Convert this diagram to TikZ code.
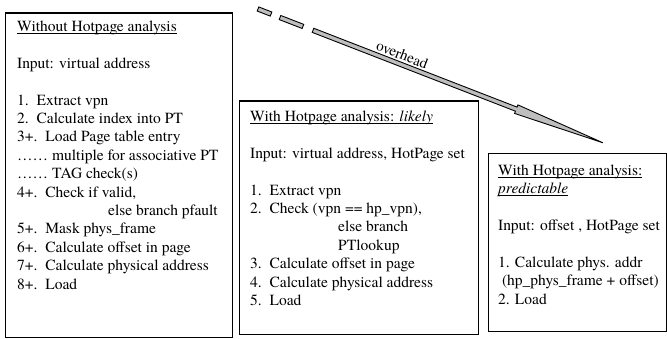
\documentclass[tikz,border=0pt]{standalone}
\usepackage{fontspec}
\setmainfont{TeX Gyre Termes}
\newcommand\myul[1]{\setbox0\hbox{#1}\rlap{\rule[-2.4pt]{\wd0}{0.8pt}}\box0}
\definecolor{shaftgray}{RGB}{190,190,190}
\tikzset{
  panel/.style={draw, line width=1.4pt, anchor=north west, inner sep=0pt},
  txt/.style={anchor=base west, inner sep=0pt, font=\fontsize{15.5}{18.4}\selectfont},
  arrowpart/.style={fill=shaftgray, draw=black, line width=0.9pt, line join=miter},
}
\begin{document}
\begin{tikzpicture}[x=1pt,y=-1pt]
\useasboundingbox (0,0) rectangle (667,339);
% panels
\node[panel, minimum width=227pt, minimum height=324.5pt] (b1) at (5,12.5) {};
\node[panel, minimum width=239.5pt, minimum height=233pt] (b2) at (238.5,100.5) {};
\node[panel, minimum width=178pt, minimum height=178pt] (b3) at (488,153) {};
% box 1 text
\foreach \i/\t in {0/{\myul{Without Hotpage analysis}},
  2/{Input: virtual address},
  4/{1.\ \ Extract vpn},
  5/{2.\ \ Calculate index into PT},
  6/{3+.\ \ Load Page table entry},
  7/{…… multiple for associative PT},
  8/{…… TAG check(s)},
  9/{4+.\ \ Check if valid,},
  10/{\hspace*{91pt}else branch pfault},
  11/{5+.\ \ Mask phys\_frame},
  12/{6+.\ \ Calculate offset in page},
  13/{7+.\ \ Calculate physical address},
  14/{8+.\ \ Load}}
  \node[txt] (ta\i) at (17,{31.5+\i*18.4}) {\t};
% box 2 text
\foreach \i/\t in {0/{\myul{With Hotpage analysis: \textit{likely}}},
  2/{Input: virtual address, HotPage set},
  4/{1.\ \ Extract vpn},
  5/{2.\ \ Check (vpn == hp\_vpn),},
  6/{\hspace*{88pt}else branch},
  7/{\hspace*{88pt}PTlookup},
  8/{3.\ \ Calculate offset in page},
  9/{4.\ \ Calculate physical address},
  10/{5.\ \ Load}}
  \node[txt] (tb\i) at (250,{121.5+\i*18.4}) {\t};
% box 3 text
\foreach \i/\t in {0/{\myul{With Hotpage analysis:}},
  1/{\myul{\textit{predictable}}},
  3/{Input: offset , HotPage set},
  5/{1. Calculate phys. addr},
  6/{\ (hp\_phys\_frame + offset)},
  7/{2. Load}}
  \node[txt] (tc\i) at (498,{175.5+\i*18.4}) {\t};
% overhead arrow
\coordinate (as) at (258,9);
\coordinate (ae) at (603,143);
\begin{scope}[shift={(as)}, rotate=-21.2]
  \draw[arrowpart] (0,-2.2) rectangle (14,2.2);
  \draw[arrowpart] (23.6,-2.2) rectangle (48.2,2.2);
  \draw[arrowpart] (59,-2.2) -- (277,-2.2) -- (277,-4.6) -- (370,0)
     -- (277,4.6) -- (277,2.2) -- (59,2.2) -- cycle;
  \node[anchor=base, inner sep=0pt, rotate=-21.2, font=\fontsize{15}{18}\selectfont] (oh) at (151,-4.5) {overhead};
\end{scope}
\end{tikzpicture}
\end{document}
